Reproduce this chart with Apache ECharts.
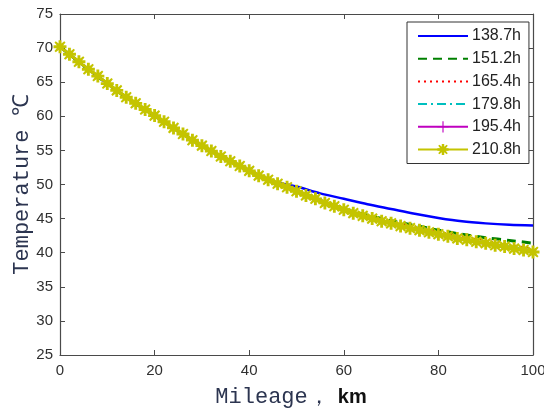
<!DOCTYPE html>
<html>
<head>
<meta charset="utf-8">
<script src="https://cdn.jsdelivr.net/npm/echarts@6/dist/echarts.min.js"></script>
<style>html,body{margin:0;padding:0;background:#fff}#c{width:544px;height:409px}</style>
</head>
<body>
<div id="c"></div>
<script>
// ---- data ----
const seriesNames = ['138.7h', '151.2h', '165.4h', '179.8h', '195.4h', '210.8h'];
const xTicks = [0, 20, 40, 60, 80, 100];
const yTicks = [25, 30, 35, 40, 45, 50, 55, 60, 65, 70, 75];

const mileage5 = [0, 5, 10, 15, 20, 25, 30, 35, 40, 45, 50, 55, 60, 65, 70, 75, 80, 85, 90, 95, 100];
const temp138 = [70.2, 67.4, 64.8, 62.3, 60.1, 57.8, 55.7, 53.7, 52.0, 50.5, 49.7, 48.7, 47.9, 47.1, 46.4, 45.7, 45.1, 44.6, 44.3, 44.1, 44.0];
const temp151 = [70.2, 67.4, 64.8, 62.3, 60.1, 57.8, 55.7, 53.7, 52.0, 50.4, 49.0, 47.6, 46.4, 45.5, 44.7, 44.0, 43.3, 42.7, 42.2, 41.8, 41.4];
const temp165 = [70.2, 67.4, 64.8, 62.3, 60.1, 57.8, 55.7, 53.7, 52.0, 50.4, 49.0, 47.6, 46.3, 45.3, 44.5, 43.8, 43.1, 42.4, 41.8, 41.2, 40.6];
const temp179 = [70.2, 67.4, 64.8, 62.3, 60.1, 57.8, 55.7, 53.7, 52.0, 50.4, 49.0, 47.6, 46.3, 45.2, 44.3, 43.5, 42.8, 42.1, 41.5, 40.9, 40.3];

const mileage2 = [0, 2, 4, 6, 8, 10, 12, 14, 16, 18, 20, 22, 24, 26, 28, 30, 32, 34, 36, 38, 40, 42, 44, 46, 48, 50,
  52, 54, 56, 58, 60, 62, 64, 66, 68, 70, 72, 74, 76, 78, 80, 82, 84, 86, 88, 90, 92, 94, 96, 98, 100];
const temp195 = [70.2, 69.1, 68.0, 66.9, 65.9, 64.8, 63.8, 62.8, 61.9, 61.0, 60.1, 59.2, 58.3, 57.4, 56.5, 55.7, 54.9, 54.1, 53.4, 52.7, 52.0,
  51.3, 50.7, 50.1, 49.6, 49.0, 48.4, 47.9, 47.3, 46.8, 46.3, 45.8, 45.4, 45.0, 44.6, 44.3, 43.9, 43.6, 43.2, 42.9, 42.6,
  42.3, 42.0, 41.8, 41.5, 41.3, 41.0, 40.8, 40.5, 40.3, 40.1];
const temp210 = [70.2, 69.1, 68.0, 66.9, 65.9, 64.8, 63.8, 62.8, 61.9, 61.0, 60.1, 59.2, 58.3, 57.4, 56.5, 55.7, 54.9, 54.1, 53.4, 52.7, 52.0,
  51.3, 50.7, 50.1, 49.6, 49.0, 48.4, 47.9, 47.3, 46.8, 46.3, 45.8, 45.4, 45.0, 44.6, 44.3, 43.9, 43.6, 43.3, 43.0, 42.7,
  42.4, 42.1, 41.9, 41.6, 41.4, 41.1, 40.9, 40.6, 40.4, 40.1];

// ---- chart ----
const pairs = (xs, ys) => xs.map((x, i) => [x, ys[i]]);
const starPath = 'path://M-2.2,-10 L2.2,-10 L2.2,-5 L6.5,-8.5 L8.5,-6.5 L5,-2.2 L10,-2.2 L10,2.2 L5,2.2 L8.5,6.5 L6.5,8.5 L2.2,5 L2.2,10 L-2.2,10 L-2.2,5 L-6.5,8.5 L-8.5,6.5 L-5,2.2 L-10,2.2 L-10,-2.2 L-5,-2.2 L-8.5,-6.5 L-6.5,-8.5 L-2.2,-5 Z';
const plusPath = 'path://M-1,-10 L1,-10 L1,-1 L10,-1 L10,1 L1,1 L1,10 L-1,10 L-1,1 L-10,1 L-10,-1 L-1,-1 Z';

const axisCol = '#4a4a4a';
const tickFont = { fontFamily: 'Liberation Sans, Arial, sans-serif', fontSize: 15, color: '#303030' };
const titleFont = 'Liberation Mono, Courier New, monospace';

const baseX = { type: 'value', min: 0, max: 100, interval: 20,
  axisLine: { show: true, onZero: false, lineStyle: { color: axisCol, width: 1.2 } },
  axisTick: { show: true, inside: true, length: 5, lineStyle: { color: axisCol } },
  splitLine: { show: false } };
const baseY = { type: 'value', min: yTicks[0], max: yTicks[yTicks.length - 1], interval: 5,
  axisLine: { show: true, onZero: false, lineStyle: { color: axisCol, width: 1.2 } },
  axisTick: { show: true, inside: true, length: 5, lineStyle: { color: axisCol } },
  splitLine: { show: false } };

const hideSym = { opacity: 0 };

const option = {
  animation: false,
  backgroundColor: '#ffffff',
  grid: { left: 60, top: 14, width: 473, height: 341, containLabel: false, outerBoundsMode: 'none' },
  xAxis: [
    Object.assign({}, baseX, { position: 'bottom',
      axisLabel: Object.assign({ margin: 8, formatter: v => xTicks.includes(v) ? String(v) : '' }, tickFont),
      name: '{a|Mileage，}{b|km}', nameLocation: 'middle', nameGap: 31,
      nameTextStyle: { padding: [0, 11, 0, 0], rich: {
        a: { fontFamily: titleFont, fontSize: 22, color: '#2c3550' },
        b: { fontFamily: 'Liberation Sans, Arial, sans-serif', fontSize: 20, fontWeight: 'bold', color: '#111', padding: [0, 0, 0, 8] } } } }),
    Object.assign({}, baseX, { position: 'top', axisLabel: { show: false } })
  ],
  yAxis: [
    Object.assign({}, baseY, { position: 'left',
      axisLabel: Object.assign({ margin: 7 }, tickFont),
      name: 'Temperature ℃', nameLocation: 'middle', nameGap: 27, nameMoveOverlap: false,
      nameTextStyle: { fontFamily: titleFont, fontSize: 22, color: '#2c3550' } }),
    Object.assign({}, baseY, { position: 'right', axisLabel: { show: false } })
  ],
  legend: {
    orient: 'vertical', left: 407, top: 22,
    padding: [6, 8, 6, 10], itemGap: 6.7, itemWidth: 50, itemHeight: 14,
    borderColor: '#333', borderWidth: 1, backgroundColor: '#fff',
    textStyle: { fontFamily: 'Liberation Sans, Arial, sans-serif', fontSize: 16, color: '#222', lineHeight: 16, padding: [0, 0, 0, -1] },
    data: [
      { name: seriesNames[0], itemStyle: hideSym },
      { name: seriesNames[1], itemStyle: hideSym },
      { name: seriesNames[2], itemStyle: hideSym },
      { name: seriesNames[3], itemStyle: hideSym },
      { name: seriesNames[4] },
      { name: seriesNames[5] }
    ]
  },
  series: [
    { name: seriesNames[0], type: 'line', data: pairs(mileage5, temp138), smooth: 0.3, symbol: 'none',
      lineStyle: { color: '#0000ff', width: 2.5 }, itemStyle: { color: '#0000ff' } },
    { name: seriesNames[1], type: 'line', data: pairs(mileage5, temp151), smooth: 0.3, symbol: 'none',
      lineStyle: { color: '#008000', width: 3, type: [9, 6] }, itemStyle: { color: '#008000' } },
    { name: seriesNames[2], type: 'line', data: pairs(mileage5, temp165), smooth: 0.3, symbol: 'none',
      lineStyle: { color: '#ff0000', width: 1.5, type: [2, 4] }, itemStyle: { color: '#ff0000' } },
    { name: seriesNames[3], type: 'line', data: pairs(mileage5, temp179), smooth: 0.3, symbol: 'none',
      lineStyle: { color: '#00bfbf', width: 2, type: [9, 4, 2, 4] }, itemStyle: { color: '#00bfbf' } },
    { name: seriesNames[4], type: 'line', data: pairs(mileage2, temp195), symbol: plusPath, symbolSize: 8,
      lineStyle: { color: '#bf00bf', width: 2 }, itemStyle: { color: '#bf00bf' } },
    { name: seriesNames[5], type: 'line', data: pairs(mileage2, temp210), symbol: starPath, symbolSize: 13,
      lineStyle: { color: '#c4c400', width: 2.5 }, itemStyle: { color: '#c4c400' } }
  ]
};
echarts.init(document.getElementById('c'), null, { renderer: 'canvas' }).setOption(option);
</script>
</body>
</html>
